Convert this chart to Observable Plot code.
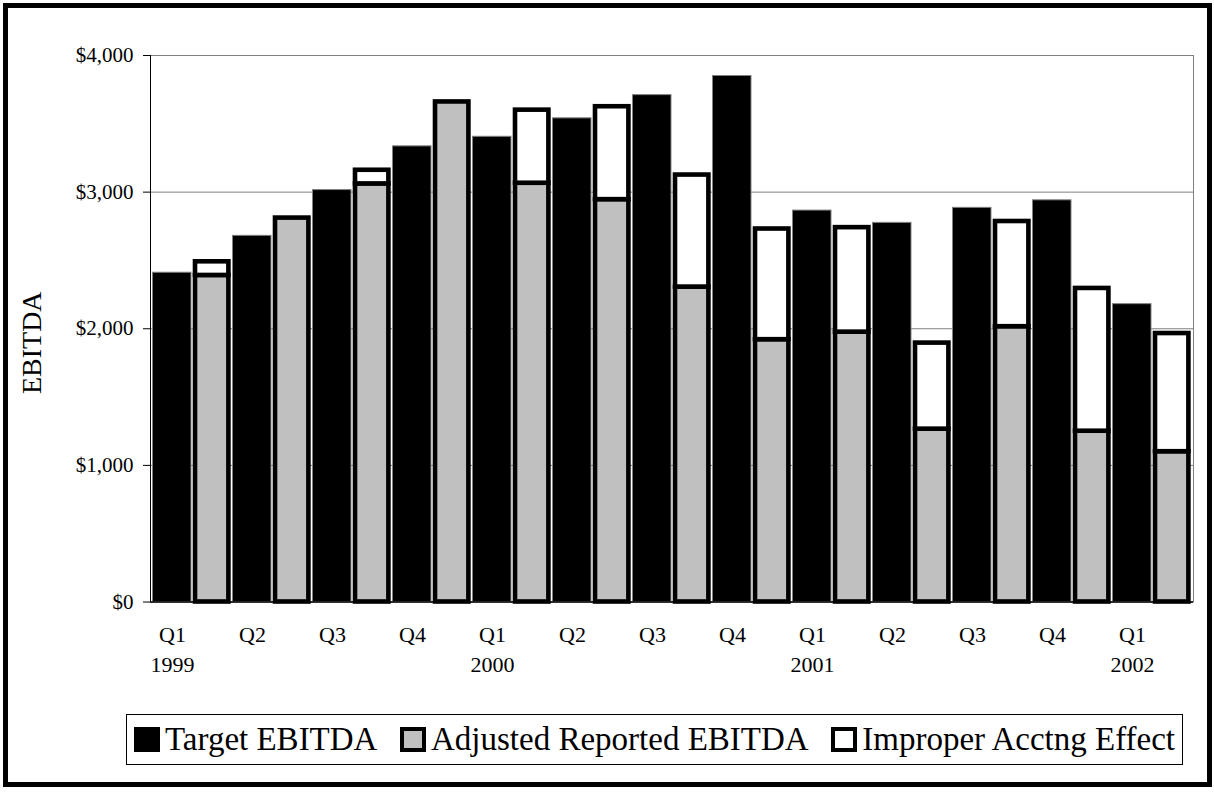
<!DOCTYPE html>
<html>
<head>
<meta charset="utf-8">
<script src="https://cdn.jsdelivr.net/npm/d3@7"></script>
<script src="https://cdn.jsdelivr.net/npm/@observablehq/plot@0.6"></script>
<style>
  html, body { margin: 0; padding: 0; background: #fff; }
  body { font-family: "Liberation Serif", "Times New Roman", serif; }
  #wrap { position: relative; width: 1214px; height: 793px; overflow: hidden; background: #fff; }
  #chart { position: absolute; left: 0; top: 0; }
  #frame { position: absolute; left: 3px; top: 3px; width: 1209px; height: 784px; box-sizing: border-box;
           border: 5.5px solid #000; z-index: 5; pointer-events: none; }
  #legend { position: absolute; left: 126px; top: 714px; width: 1057px; height: 51px; box-sizing: border-box;
            border: 1px solid #000; display: flex; align-items: center; justify-content: space-between;
            padding: 0 7px 0 7px; font-size: 33px; color: #000; background: #fff; }
  .item { display: flex; align-items: center; white-space: nowrap; }
  .sw { display: inline-block; width: 26px; height: 25px; box-sizing: border-box; margin-right: 5px; }
</style>
</head>
<body>
<div id="wrap">
  <div id="chart"></div>
  <div id="legend"></div>
  <div id="frame"></div>
</div>
<script>
// ---- data ----
const quarters = ["Q1","Q2","Q3","Q4","Q1","Q2","Q3","Q4","Q1","Q2","Q3","Q4","Q1"];
const years    = ["1999","","","","2000","","","","2001","","","","2002"];
const target   = [2410, 2680, 3015, 3335, 3405, 3540, 3710, 3850, 2865, 2775, 2885, 2940, 2180];
const adjusted = [2390, 2810, 3060, 3660, 3065, 2945, 2305, 1920, 1975, 1265, 2015, 1250, 1100];
const improper = [100, 0, 100, 0, 535, 680, 820, 810, 765, 630, 770, 1045, 865];
const yTicks   = [0, 1000, 2000, 3000, 4000];
const seriesNames = ["Target EBITDA", "Adjusted Reported EBITDA", "Improper Acctng Effect"];

// ---- build tables ----
const n = quarters.length;
const cats = d3.range(2 * n);
const tgt = quarters.map((q, i) => ({c: 2 * i, v: target[i]}));
const rep = quarters.map((q, i) => ({c: 2 * i + 1, a: adjusted[i], t: adjusted[i] + improper[i], imp: improper[i]}));

const chart = Plot.plot({
  width: 1214,
  height: 700,
  marginLeft: 150,
  marginRight: 21,
  marginTop: 55,
  marginBottom: 98.5,
  style: {fontFamily: "'Liberation Serif', 'Times New Roman', serif", fontSize: "21px", color: "#000", background: "transparent"},
  x: {type: "band", domain: cats, padding: 0, axis: null},
  y: {domain: [0, 4000], axis: null},
  marks: [
    Plot.ruleY(yTicks.filter(d => d > 0), {stroke: "#808080", strokeWidth: 1}),
    Plot.frame({stroke: "#808080", strokeWidth: 1}),
    Plot.barY(tgt, {x: "c", y1: 0, y2: "v", fill: "#000", stroke: "#808080", strokeWidth: 1, insetLeft: 0.5, insetRight: 1}),
    Plot.barY(rep, {x: "c", y1: 0, y2: "a", fill: "#c0c0c0", stroke: "#000", strokeWidth: 4.6, insetLeft: 3, insetRight: 3.6}),
    Plot.barY(rep.filter(d => d.imp > 0), {x: "c", y1: "a", y2: "t", fill: "#fff", stroke: "#000", strokeWidth: 4.6, insetLeft: 3, insetRight: 3.6}),
    Plot.frame({anchor: "left", stroke: "#000", strokeWidth: 1}),
    Plot.ruleY([0], {stroke: "#000", strokeWidth: 1.5}),
    Plot.axisY(yTicks, {tickFormat: d => "$" + d3.format(",")(d), tickSize: 7, tickPadding: 10, fontSize: 21, label: null}),
    Plot.axisX(d3.range(0, 2 * n, 2), {tickFormat: i => quarters[i / 2], tickSize: 0, tickPadding: 24, fontSize: 22, label: null}),
    Plot.axisX(d3.range(0, 2 * n, 2).filter(i => years[i / 2] !== ""), {tickFormat: i => years[i / 2], tickSize: 0, tickPadding: 54, fontSize: 22, label: null}),
    Plot.text(["EBITDA"], {frameAnchor: "left", textAnchor: "middle", dx: -118, dy: 14, rotate: -90, fontSize: 28, text: d => d})
  ]
});
document.getElementById("chart").appendChild(chart);

// ---- legend ----
const swStyles = [
  "background:#000;",
  "background:#c0c0c0;border:4px solid #000;",
  "background:#fff;border:4px solid #000;"
];
const legend = document.getElementById("legend");
seriesNames.forEach((name, i) => {
  const item = document.createElement("span");
  item.className = "item";
  const sw = document.createElement("span");
  sw.className = "sw";
  sw.setAttribute("style", swStyles[i]);
  const tx = document.createElement("span");
  tx.textContent = name;
  item.appendChild(sw);
  item.appendChild(tx);
  legend.appendChild(item);
});
</script>
</body>
</html>
